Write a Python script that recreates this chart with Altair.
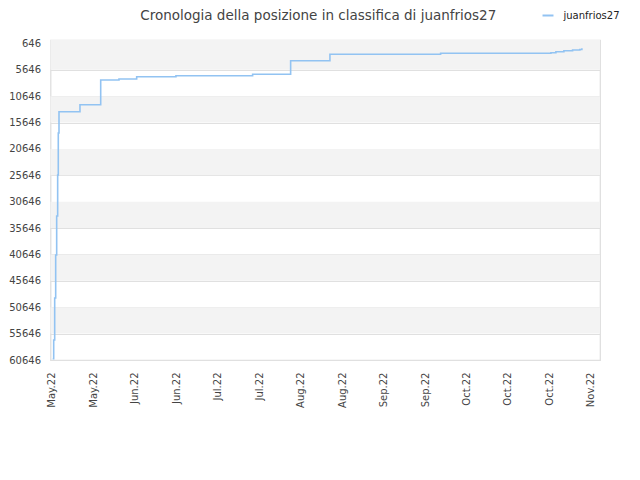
import json
import altair as alt
import pandas as pd

# ---- data ----
tick_labels = ["May.22", "May.22", "Jun.22", "Jun.22", "Jul.22", "Jul.22", "Aug.22",
               "Aug.22", "Sep.22", "Sep.22", "Oct.22", "Oct.22", "Oct.22", "Nov.22"]
# position along the time axis, in tick units (0 = first tick label)
pos = [0.017, 0.041, 0.065, 0.089, 0.113, 0.137, 0.152, 0.169, 0.675, 1.175,
       1.616, 2.043, 2.990, 4.840, 5.757, 6.705, 9.375, 12.036, 12.156, 12.349,
       12.559, 12.735, 12.783]
rank = [60400, 56850, 48900, 40740, 33350, 25580, 17620, 13590, 12260, 7580,
        7390, 6955, 6765, 6500, 3920, 2710, 2520, 2405, 2215, 2030,
        1895, 1800, 1570]
player = "juanfrios27"
y_ticks = [646 + 5000 * k for k in range(13)]
band_start = [0, 10646, 20646, 30646, 40646, 50646]
band_end = [5646, 15646, 25646, 35646, 45646, 55646]

W, H = 549.5, 320
FONT = "DejaVu Sans"

line_df = pd.DataFrame({"t": pos, "rank": rank, "series": player})
band_df = pd.DataFrame({"y0": band_start, "y1": band_end})

yscale = alt.Scale(domain=[0, 60646], reverse=True, nice=False, zero=False)
xscale = alt.Scale(domain=[-0.036, 13.22], nice=False, zero=False)

label_expr = json.dumps(tick_labels) + "[round(datum.value)]"

yaxis = alt.Axis(values=y_ticks, grid=True, gridColor="#e0e0e0", ticks=False,
                 domain=False, labelPadding=10, labelFont=FONT,
                 labelFontSize=10, labelColor="#444444", format="d")

bands = alt.Chart(band_df).mark_rect(color="#f3f3f3").encode(
    y=alt.Y("y0:Q", scale=yscale, axis=yaxis, title=None),
    y2="y1:Q",
    x=alt.value(0),
    x2=alt.value(W),
)

line = alt.Chart(line_df).mark_line(
    interpolate="step-after", strokeWidth=1.6, color="#92c3f2"
).encode(
    x=alt.X("t:Q", scale=xscale, title=None,
            axis=alt.Axis(values=list(range(len(tick_labels))), labelExpr=label_expr,
                          labelAngle=-90, labelAlign="right", labelBaseline="middle",
                          grid=False, ticks=False, domain=False, labelPadding=12,
                          labelFont=FONT, labelFontSize=10, labelColor="#444444")),
    y=alt.Y("rank:Q", scale=yscale, title=None, axis=yaxis),
    color=alt.Color("series:N", scale=alt.Scale(range=["#92c3f2"]),
                    legend=alt.Legend(orient="none", legendX=491, legendY=-31,
                                      title=None, symbolType="stroke",
                                      symbolStrokeWidth=2, symbolSize=120,
                                      labelOffset=9,
                                      labelFont=FONT, labelFontSize=10,
                                      labelColor="#222222")),
)

chart = alt.layer(bands, line).properties(
    width=W, height=H,
    title=alt.TitleParams("Cronologia della posizione in classifica di juanfrios27",
                          font=FONT, fontSize=13.5, fontWeight="normal",
                          color="#444444", anchor="middle", dx=-7, offset=-13),
    autosize=alt.AutoSizeParams(type="none"),
    padding={"left": 42.5, "top": 32, "right": 30, "bottom": 80},
).configure_view(stroke="#dddddd", strokeWidth=1.2)

chart.save("out.html", embed_options={"renderer": "svg", "actions": False})
